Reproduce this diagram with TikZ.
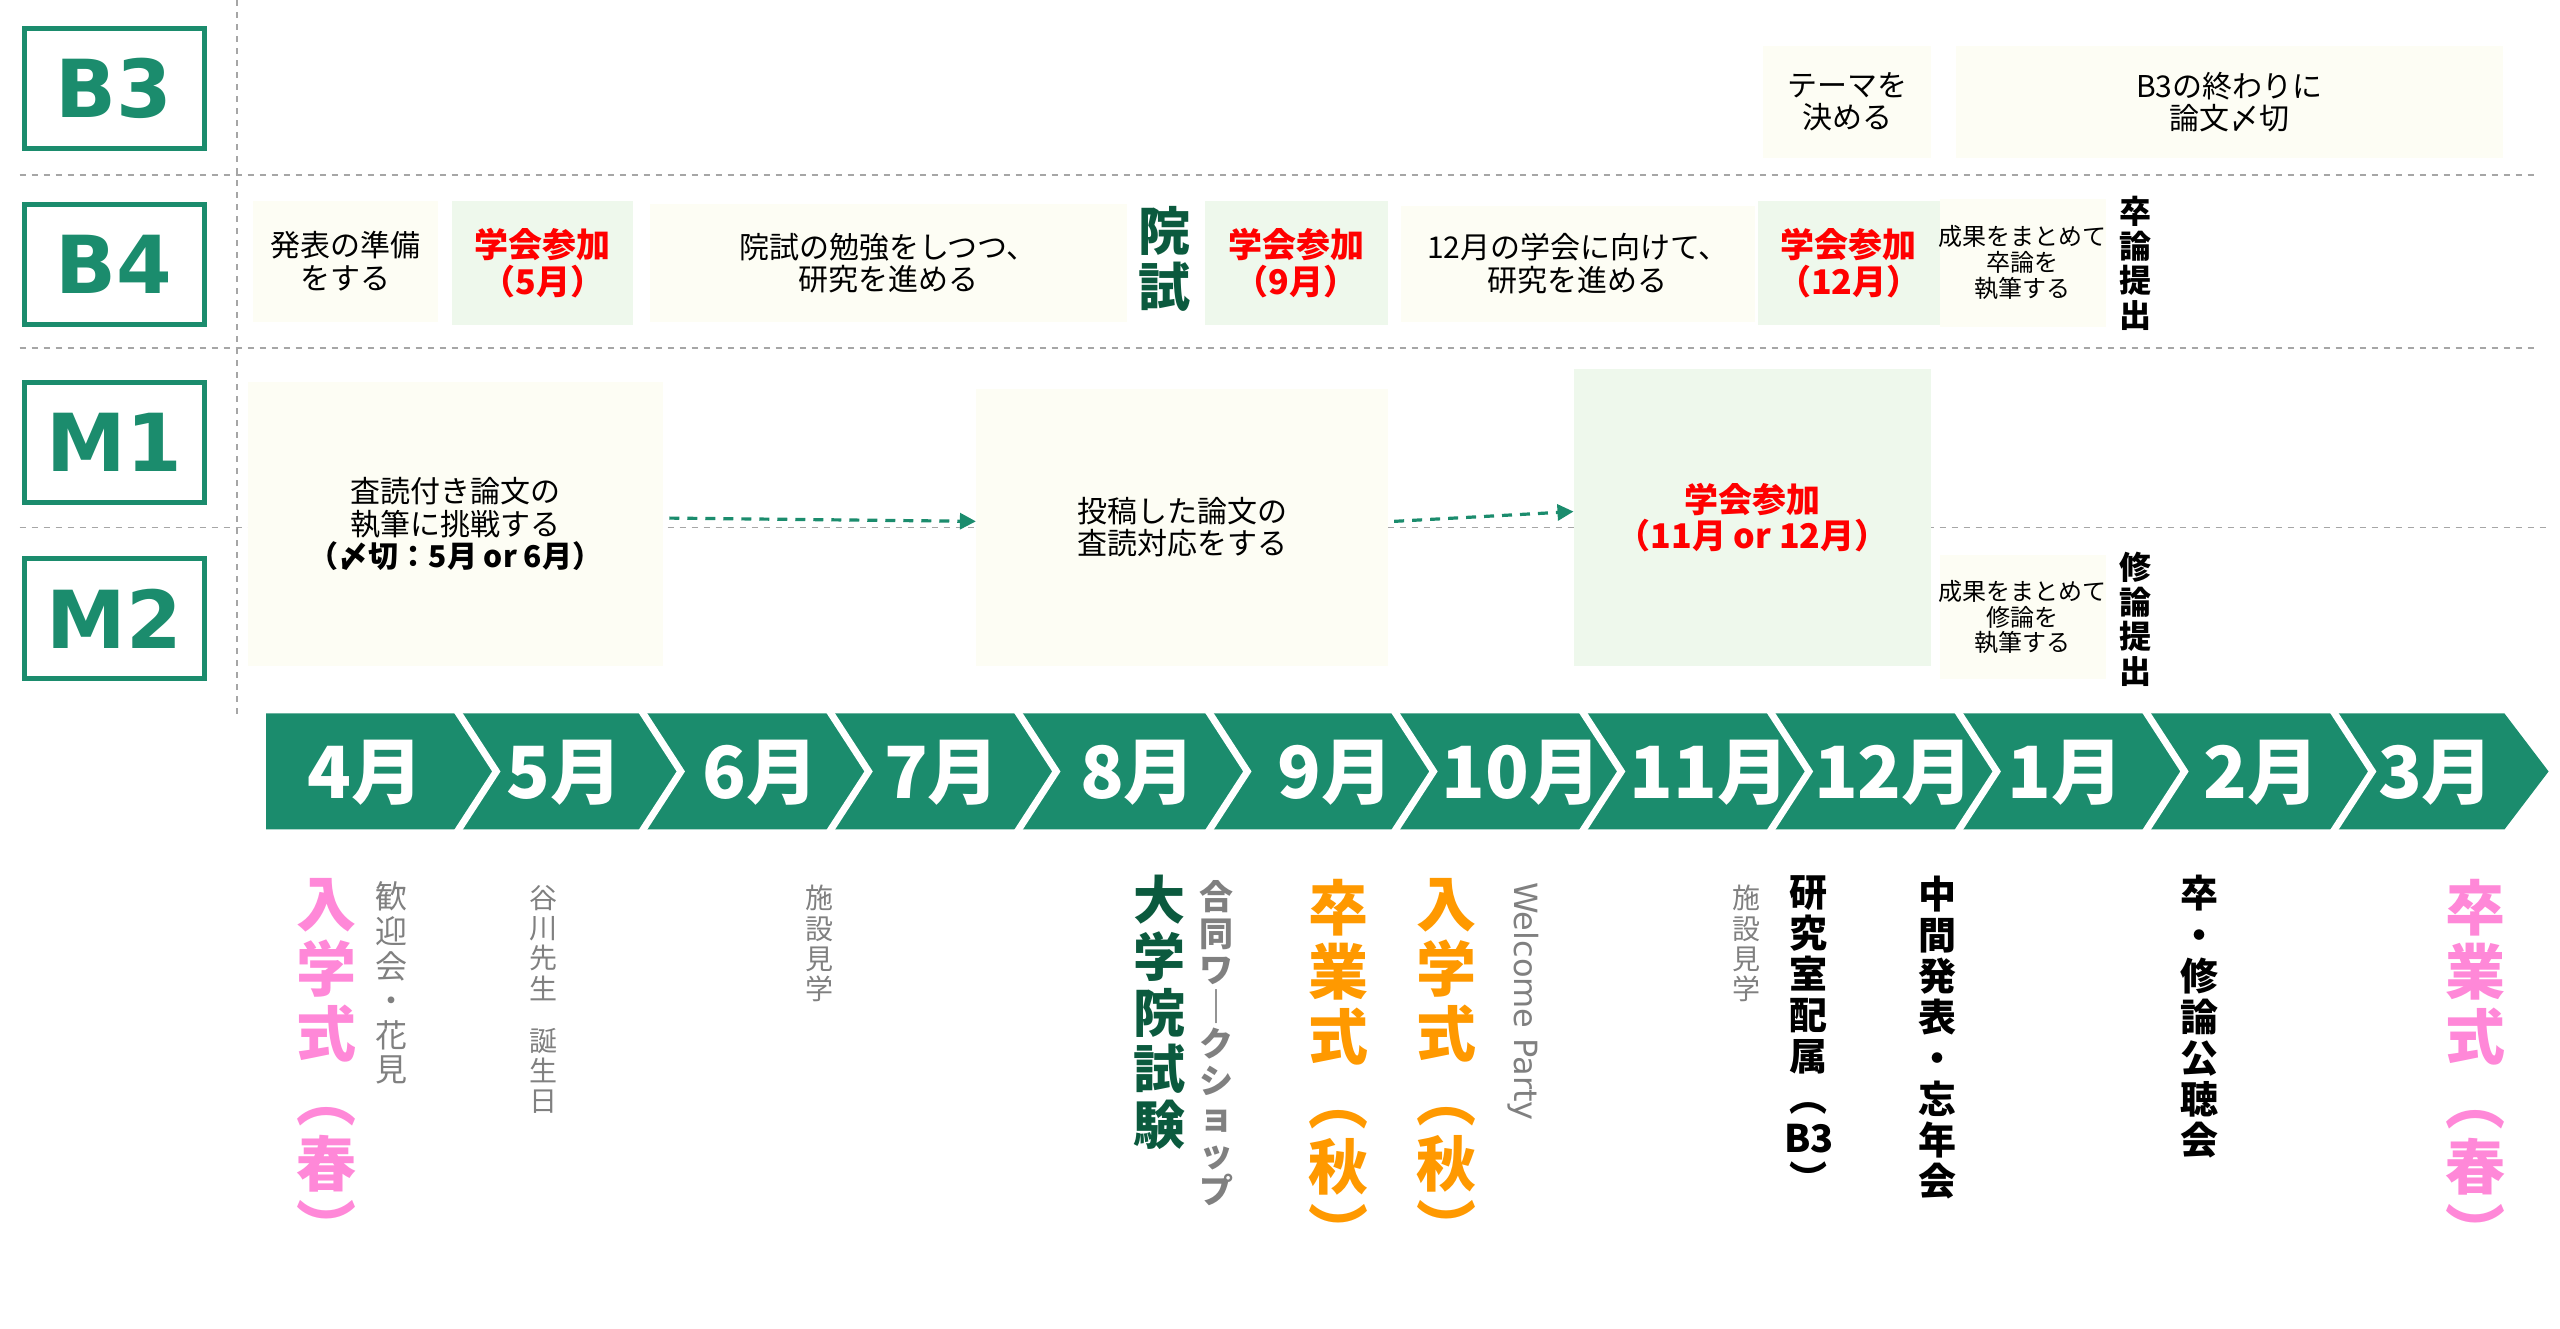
\documentclass[tikz,border=0pt]{standalone}
\usepackage{fontspec}
\setmainfont{Noto Sans CJK JP}
\newfontfamily\dv{DejaVu Sans}
\usetikzlibrary{fit,arrows.meta}
\definecolor{tg}{HTML}{1B8C6D}
\definecolor{cream}{HTML}{FDFDF4}
\definecolor{lgreen}{HTML}{EEF8EC}
\definecolor{dgreen}{HTML}{0B5A3E}
\definecolor{pinkc}{HTML}{FF88D8}
\definecolor{orangec}{HTML}{FF9900}
\definecolor{grayc}{HTML}{808080}
\newcommand{\fs}[1]{\fontsize{#1pt}{1.08\dimexpr#1pt\relax}\selectfont}
\begin{document}
\begin{tikzpicture}[x=0.8163pt,y=-0.8163pt,
  lab/.style={draw=tg,line width=2.5pt,minimum width=90pt,minimum height=60pt,inner sep=0,text=tg,font=\dv\bfseries\fontsize{40pt}{40pt}\selectfont},
  cbox/.style={fill=cream,inner sep=0},
  gbox/.style={fill=lgreen,inner sep=0},
  txt/.style={align=center,font=\fs{15}},
  red/.style={align=center,text=red,font=\bfseries\fs{17}},
  small/.style={align=center,font=\fs{12}},
  vt/.style={align=center,anchor=north,inner sep=0},
  grid/.style={gray!70,dashed,line width=0.8pt},
  arr/.style={tg,dashed,line width=1.6pt,dash pattern=on 5pt off 4pt,-{Triangle[length=8pt,width=8pt]}},
  mon/.style={text=white,font=\bfseries\fs{36}}
]
\useasboundingbox (0,0) rectangle (1568,814);
% grid
\draw[grid] (145,0) -- (145,440);
\draw[grid] (12,107) -- (1555,107);
\draw[grid] (12,213) -- (1555,213);
\draw[grid] (12,323) -- (1562,323);
% labels
\node[lab] (b3) at (70,54) {B3};
\node[lab] (b4) at (70,162) {B4};
\node[lab] (m1) at (70,271) {M1};
\node[lab] (m2) at (70,379) {M2};
% B3 row
\node[cbox,fit={(1080,28)(1183,97)}] (t1) {};
\node[txt] at (t1.center) {テーマを\\決める};
\node[cbox,fit={(1198,28)(1533,97)}] (t2) {};
\node[txt] at (t2.center) {B3の終わりに\\論文〆切};
% B4 row
\node[cbox,fit={(155,123)(268,197)}] (r1) {};
\node[txt] at (r1.center) {発表の準備\\をする};
\node[gbox,fit={(277,123)(388,199)}] (r2) {};
\node[red] at (r2.center) {学会参加\\（5月）};
\node[cbox,fit={(398,125)(690,197)}] (r3) {};
\node[txt] at (r3.center) {院試の勉強をしつつ、\\研究を進める};
\node[vt,text=dgreen,font=\bfseries\fs{26}] (ins) at (713,126) {院\\試};
\node[gbox,fit={(738,123)(850,199)}] (r4) {};
\node[red] at (r4.center) {学会参加\\（9月）};
\node[cbox,fit={(858,126)(1075,197)}] (r5) {};
\node[txt] at (r5.center) {12月の学会に向けて、\\研究を進める};
\node[gbox,fit={(1077,123)(1188,199)}] (r6) {};
\node[red] at (r6.center) {学会参加\\（12月）};
\node[cbox,fit={(1188,122)(1290,200)}] (r7) {};
\node[small] at (r7.center) {成果をまとめて\\卒論を\\執筆する};
\node[vt,font=\bfseries\fs{16}] (sot) at (1308,120) {卒\\論\\提\\出};
% M rows
\node[cbox,fit={(152,234)(406,408)}] (p1) {};
\node[txt] at (p1.center) {査読付き論文の\\執筆に挑戦する\\{\bfseries（〆切：5月 or 6月）}};
\node[cbox,fit={(598,238)(850,408)}] (p2) {};
\node[txt] at (p2.center) {投稿した論文の\\査読対応をする};
\node[gbox,fit={(964,226)(1183,408)}] (p3) {};
\node[red] at (p3.center) {学会参加\\（11月 or 12月）};
\draw[arr] ([xshift=3pt,yshift=3pt]p1.east) -- ([yshift=3pt]p2.west);
\draw[arr] ([xshift=3pt,yshift=3pt]p2.east) -- ([yshift=3pt]p3.west);
\node[cbox,fit={(1188,340)(1290,416)}] (p4) {};
\node[small] at (p4.center) {成果をまとめて\\修論を\\執筆する};
\node[vt,font=\bfseries\fs{16}] (shu) at (1308,338) {修\\論\\提\\出};
% month band
\fill[tg] (163,437) -- (1534,437) -- (1561,472.5) -- (1534,508) -- (163,508) -- cycle;
\foreach \b in {279,392,507,622,739,853,968,1083,1198,1313,1428}
  \draw[white,line width=3.5pt] (\b,434) -- (\b+25,472.5) -- (\b,511);
\node[mon] (mo4) at (224,473) {4月};
\node[mon] (mo5) at (346,473) {5月};
\node[mon] (mo6) at (466,473) {6月};
\node[mon] (mo7) at (577,473) {7月};
\node[mon] (mo8) at (697,473) {8月};
\node[mon] (mo9) at (818,473) {9月};
\node[mon] (mo10) at (932,473) {10月};
\node[mon] (mo11) at (1047,473) {11月};
\node[mon] (mo12) at (1160,473) {12月};
\node[mon] (mo1) at (1265,473) {1月};
\node[mon] (mo2) at (1385,473) {2月};
\node[mon] (mo3) at (1492,473) {3月};
% events
\node[vt,text=pinkc,font=\bfseries\fs{30}] (e1) at (200,538) {入\\学\\式\\︵\\春\\︶};
\node[vt,text=grayc,font=\fs{16}] (e2) at (240,540) {歓\\迎\\会\\・\\花\\見};
\node[vt,text=grayc,font=\fs{14}] (e3) at (333,542) {谷\\川\\先\\生\\\\[-4pt]誕\\生\\日};
\node[vt,text=grayc,font=\fs{14}] (e4) at (502,542) {施\\設\\見\\学};
\node[vt,text=dgreen,font=\bfseries\fs{26}] (e5) at (710,536) {大\\学\\院\\試\\験};
\node[vt,text=grayc,font=\bfseries\fs{17}] (e6) at (745,539) {合\\同\\ワ\\｜\\ク\\シ\\ョ\\ッ\\プ};
\node[vt,text=orangec,font=\bfseries\fs{30}] (e7) at (820,538) {卒\\業\\式\\︵\\秋\\︶};
\node[vt,text=orangec,font=\bfseries\fs{30}] (e8) at (886,538) {入\\学\\式\\︵\\秋\\︶};
\node[text=grayc,font=\dv\fs{16},rotate=-90,anchor=west,inner sep=0] (e9) at (933,540) {Welcome Party};
\node[vt,text=grayc,font=\fs{14}] (e10) at (1070,542) {施\\設\\見\\学};
\node[vt,font=\bfseries\fs{19}] (e11) at (1108,536) {研\\究\\室\\配\\属\\︵\\B3\\︶};
\node[vt,font=\bfseries\fs{19}] (e12) at (1187,536) {中\\間\\発\\表\\・\\忘\\年\\会};
\node[vt,font=\bfseries\fs{19}] (e13) at (1347,536) {卒\\・\\修\\論\\公\\聴\\会};
\node[vt,text=pinkc,font=\bfseries\fs{30}] (e14) at (1516,538) {卒\\業\\式\\︵\\春\\︶};
\end{tikzpicture}
\end{document}
